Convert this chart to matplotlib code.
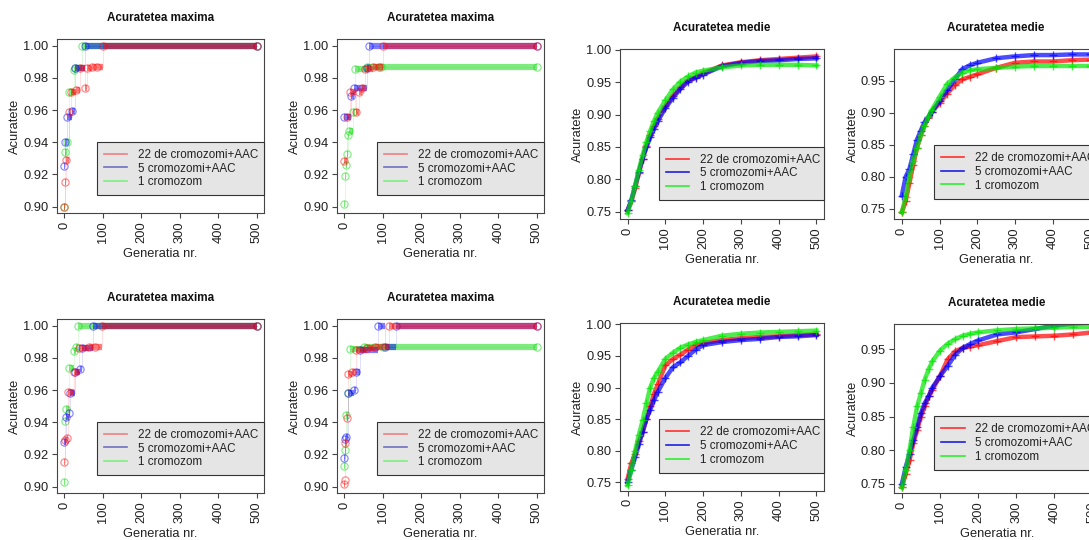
import matplotlib
matplotlib.use("Agg")
import matplotlib.pyplot as plt
from matplotlib.lines import Line2D

plt.rcParams['font.family'] = ['Liberation Sans', 'DejaVu Sans']

# --- Acuratetea maxima: (generatia, acuratete) la fiecare schimbare ---
p1_red = [(0, 0.900), (2, 0.9155), (5, 0.929), (12, 0.959), (17, 0.971), (30, 0.9725),
          (42, 0.986), (55, 0.9735), (58, 0.986), (72, 0.9865), (85, 0.987), (100, 1.000)]
p1_blue = [(0, 0.925), (3, 0.940), (8, 0.956), (20, 0.9595), (27, 0.986), (55, 1.000)]
p1_green = [(0, 0.900), (3, 0.934), (8, 0.940), (12, 0.971), (24, 0.985), (28, 0.986), (47, 1.000)]

p2_red = [(0, 0.9285), (8, 0.9555), (14, 0.9715), (30, 0.9585), (37, 0.9715), (45, 0.9735),
          (55, 0.9855), (75, 0.9865), (90, 0.987), (100, 1.000)]
p2_blue = [(0, 0.9555), (18, 0.9685), (26, 0.9735), (58, 0.986), (63, 1.000)]
p2_green = [(0, 0.9015), (2, 0.919), (4, 0.926), (6, 0.9325), (10, 0.9445), (13, 0.947),
            (22, 0.9585), (29, 0.9855), (60, 0.9865), (95, 0.987)]

p5_red = [(0, 0.9155), (3, 0.929), (7, 0.9305), (10, 0.959), (25, 0.971), (38, 0.986),
          (65, 0.9865), (80, 0.987), (97, 1.000)]
p5_blue = [(0, 0.9275), (4, 0.9435), (12, 0.946), (15, 0.958), (28, 0.9715), (42, 0.973),
           (47, 0.986), (75, 1.000)]
p5_green = [(0, 0.903), (3, 0.941), (5, 0.948), (11, 0.9735), (26, 0.9845), (30, 0.9865), (36, 1.000)]

p6_red = [(0, 0.9015), (1, 0.904), (3, 0.927), (6, 0.9425), (10, 0.970), (20, 0.971),
          (30, 0.985), (60, 0.986), (80, 0.9865), (115, 1.000)]
p6_blue = [(0, 0.918), (3, 0.9295), (5, 0.931), (10, 0.958), (25, 0.960), (30, 0.9715),
           (40, 0.985), (88, 1.000), (105, 0.987), (135, 1.000)]
p6_green = [(0, 0.913), (2, 0.9225), (5, 0.9445), (9, 0.958), (16, 0.9855), (50, 0.9865), (100, 0.987)]

# --- Acuratetea medie ---
mean_gen = [0, 10, 20, 30, 40, 50, 60, 70, 80, 100, 120, 140, 160, 180, 200, 250, 300, 350, 400, 450, 500]

p3_red = [0.752, 0.766, 0.786, 0.810, 0.832, 0.852, 0.868, 0.882, 0.894, 0.913, 0.929, 0.942,
          0.953, 0.958, 0.964, 0.976, 0.981, 0.984, 0.986, 0.988, 0.990]
p3_blue = [0.752, 0.768, 0.790, 0.812, 0.832, 0.850, 0.865, 0.878, 0.890, 0.910, 0.926, 0.940,
           0.951, 0.957, 0.962, 0.975, 0.980, 0.983, 0.984, 0.986, 0.987]
p3_green = [0.748, 0.767, 0.790, 0.815, 0.838, 0.858, 0.875, 0.890, 0.903, 0.922, 0.939, 0.951,
            0.959, 0.965, 0.968, 0.973, 0.976, 0.977, 0.977, 0.977, 0.976]

p4_red = [0.745, 0.762, 0.790, 0.818, 0.845, 0.865, 0.880, 0.892, 0.902, 0.915, 0.930, 0.943,
          0.952, 0.956, 0.960, 0.970, 0.978, 0.980, 0.980, 0.982, 0.983]
p4_blue = [0.771, 0.800, 0.812, 0.835, 0.858, 0.872, 0.885, 0.893, 0.902, 0.918, 0.935, 0.952,
           0.968, 0.974, 0.978, 0.985, 0.988, 0.990, 0.990, 0.991, 0.991]
p4_green = [0.745, 0.768, 0.800, 0.825, 0.845, 0.865, 0.880, 0.893, 0.905, 0.925, 0.945, 0.955,
            0.962, 0.966, 0.968, 0.970, 0.972, 0.973, 0.973, 0.973, 0.973]

p7_red = [0.755, 0.780, 0.795, 0.815, 0.830, 0.850, 0.870, 0.890, 0.905, 0.935, 0.945, 0.952,
          0.960, 0.967, 0.970, 0.975, 0.978, 0.980, 0.981, 0.983, 0.984]
p7_blue = [0.750, 0.770, 0.790, 0.810, 0.830, 0.850, 0.865, 0.880, 0.893, 0.915, 0.932, 0.940,
           0.950, 0.960, 0.967, 0.972, 0.975, 0.977, 0.980, 0.981, 0.983]
p7_green = [0.745, 0.770, 0.800, 0.825, 0.848, 0.875, 0.900, 0.915, 0.925, 0.945, 0.955, 0.963,
            0.968, 0.972, 0.975, 0.982, 0.985, 0.987, 0.988, 0.989, 0.990]

p8_red = [0.745, 0.765, 0.785, 0.810, 0.830, 0.850, 0.865, 0.880, 0.890, 0.910, 0.935, 0.947,
          0.952, 0.954, 0.956, 0.962, 0.968, 0.969, 0.970, 0.972, 0.975]
p8_blue = [0.750, 0.775, 0.795, 0.815, 0.835, 0.855, 0.870, 0.880, 0.893, 0.910, 0.925, 0.942,
           0.952, 0.958, 0.963, 0.972, 0.975, 0.980, 0.985, 0.988, 0.990]
p8_green = [0.745, 0.770, 0.800, 0.835, 0.865, 0.885, 0.905, 0.920, 0.932, 0.948, 0.958, 0.965,
            0.970, 0.973, 0.975, 0.978, 0.980, 0.981, 0.982, 0.983, 0.983]

labels = ["22 de cromozomi+AAC", "5 cromozomi+AAC", "1 cromozom"]
LAST_GEN = 500

W, H = 1089, 540
FS = 8.4      # titlu si legenda
TICK_FS = 9.3  # etichete axe
AX_COL = '#444444'
TXT_COL = '#222222'


def make_axes(fig, l, t, r, b):
    ax = fig.add_axes([l / W, 1 - b / H, (r - l) / W, (b - t) / H])
    for s in ax.spines.values():
        s.set_color(AX_COL)
        s.set_linewidth(0.8)
    ax.tick_params(colors=AX_COL, labelcolor=TXT_COL, length=3.5, width=0.8, pad=2.5,
                   labelsize=TICK_FS)
    ax.set_xlim(-20, 520)
    ax.set_xticks([0, 100, 200, 300, 400, 500])
    ax.tick_params(axis='x', labelrotation=90)
    ax.set_xlabel("Generatia nr.", fontsize=TICK_FS, color=TXT_COL, labelpad=3.5)
    ax.set_ylabel("Acuratete", fontsize=TICK_FS, color=TXT_COL, labelpad=1.5)
    return ax


def add_legend(ax, colors, x0, y1):
    handles = [Line2D([], [], color=c, lw=1.2) for c in colors]
    leg = ax.legend(handles, labels, loc='upper left', bbox_to_anchor=(x0, y1, 1.0 - x0, 0),
                    mode='expand', borderaxespad=0, fontsize=FS, fancybox=False,
                    facecolor='#e5e5e5', edgecolor='#333333', framealpha=1,
                    labelspacing=0.15, borderpad=0.6, handlelength=2.0, handletextpad=0.9)
    leg.get_frame().set_linewidth(0.8)
    for t in leg.get_texts():
        t.set_color(TXT_COL)


def draw_max(ax, red, blue, green, title, leg_x, leg_top):
    for pts, col in [(green, (0, 0.85, 0)), (blue, (0, 0, 1)), (red, (1, 0, 0))]:
        g = [p[0] for p in pts]
        v = [p[1] for p in pts]
        ax.step(g + [LAST_GEN], v + [v[-1]], where='post', color=col, lw=0.5, alpha=0.18)
        lc = ax.hlines(v, g, g[1:] + [LAST_GEN], colors=[col], lw=4.5, alpha=0.5)
        lc.set_capstyle('butt')
        ax.plot(g + [LAST_GEN], v + [v[-1]], 'o', mfc='none', mec=col, mew=0.9, ms=5.2,
                alpha=0.45, ls='none')
    ax.set_ylim(0.896, 1.004)
    ax.set_yticks([0.90, 0.92, 0.94, 0.96, 0.98, 1.00])
    ax.set_yticklabels(["%.2f" % y for y in [0.90, 0.92, 0.94, 0.96, 0.98, 1.00]])
    ax.set_title(title, fontsize=FS, fontweight='bold', pad=13, color='#111111')
    add_legend(ax, ['#f08080', '#7070c0', '#80ee80'], leg_x, leg_top)


def draw_mean(ax, red, blue, green, title, ylim, leg_x, leg_top):
    for vals, col in [(red, (1, 0, 0)), (blue, (0, 0, 1)), (green, (0, 0.9, 0))]:
        ax.plot(mean_gen, vals, color=col, lw=3.2, alpha=0.7, marker='+', ms=6, mew=1.0)
    ax.set_ylim(*ylim)
    yt = [y for y in [0.75, 0.80, 0.85, 0.90, 0.95, 1.00] if ylim[0] <= y <= ylim[1]]
    ax.set_yticks(yt)
    ax.set_yticklabels(["%.2f" % y for y in yt])
    ax.set_title(title, fontsize=FS, fontweight='bold', pad=13, color='#111111')
    add_legend(ax, ['#ff3030', '#2020e0', '#30ee30'], leg_x, leg_top)


fig = plt.figure(figsize=(W / 100, H / 100), dpi=100)

ax1 = make_axes(fig, 56.6, 39.3, 264.4, 213)
draw_max(ax1, p1_red, p1_blue, p1_green, "Acuratetea maxima", 0.193, 0.41)
ax2 = make_axes(fig, 336.6, 39.3, 544.4, 213)
draw_max(ax2, p2_red, p2_blue, p2_green, "Acuratetea maxima", 0.193, 0.41)
ax3 = make_axes(fig, 620, 49.3, 824, 219)
draw_mean(ax3, p3_red, p3_blue, p3_green, "Acuratetea medie", (0.7387, 1.001), 0.19, 0.426)
ax4 = make_axes(fig, 894.3, 49.3, 1098, 219)
draw_mean(ax4, p4_red, p4_blue, p4_green, "Acuratetea medie", (0.7344, 0.999), 0.194, 0.436)

ax5 = make_axes(fig, 56.6, 319.3, 264.4, 493)
draw_max(ax5, p5_red, p5_blue, p5_green, "Acuratetea maxima", 0.193, 0.41)
ax6 = make_axes(fig, 336.6, 319.3, 544.4, 493)
draw_max(ax6, p6_red, p6_blue, p6_green, "Acuratetea maxima", 0.193, 0.41)
ax7 = make_axes(fig, 620, 323.3, 824, 490.7)
draw_mean(ax7, p7_red, p7_blue, p7_green, "Acuratetea medie", (0.7367, 1.0016), 0.19, 0.4265)
ax8 = make_axes(fig, 894.3, 324.3, 1100, 493.3)
draw_mean(ax8, p8_red, p8_blue, p8_green, "Acuratetea medie", (0.736, 0.987), 0.194, 0.455)

fig.savefig("out.png", dpi=100)
